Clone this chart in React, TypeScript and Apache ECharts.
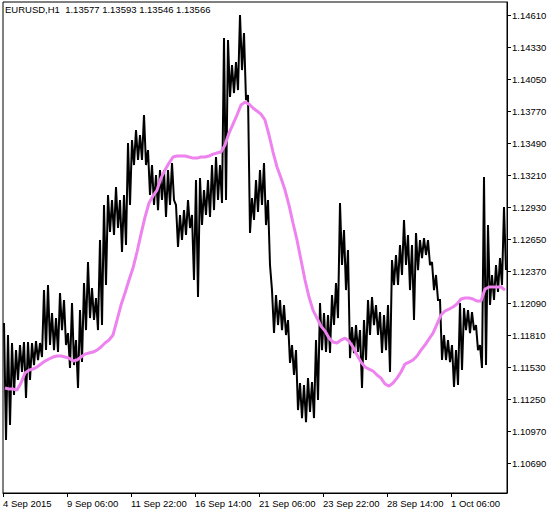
import React, { useEffect, useRef } from "react";
import * as echarts from "echarts";

const titleText = "EURUSD,H1  1.13577 1.13593 1.13546 1.13566";
const xTickLabels = ["4 Sep 2015", "9 Sep 06:00", "11 Sep 22:00", "16 Sep 14:00", "21 Sep 06:00", "23 Sep 22:00", "28 Sep 14:00", "1 Oct 06:00"];
const barsPerLabel = 16;
const yTickValues = [1.1069, 1.1097, 1.1125, 1.1153, 1.1181, 1.1209, 1.1237, 1.1265, 1.1293, 1.1321, 1.1349, 1.1377, 1.1405, 1.1433, 1.1461];

const highs = [
  1.11915, 1.1181, 1.1174, 1.11678, 1.11722, 1.11748, 1.11748, 1.1174, 1.11757, 1.1174,
  1.12203, 1.12247, 1.12002, 1.11958, 1.12177, 1.12116, 1.11827, 1.1209, 1.11766, 1.12028,
  1.12265, 1.12448, 1.12221, 1.12133, 1.12641, 1.12947, 1.13035, 1.12991, 1.13105, 1.12991,
  1.13035, 1.1349, 1.13516, 1.13603, 1.1356, 1.13735, 1.13428, 1.13297, 1.1321, 1.13253,
  1.13253, 1.13253, 1.13315, 1.12947, 1.1286, 1.12903, 1.12991, 1.1286, 1.13166, 1.13183,
  1.13078, 1.13166, 1.13297, 1.13367, 1.13297, 1.14408, 1.14391, 1.14172, 1.14198, 1.1461,
  1.14452, 1.1391, 1.13008, 1.13166, 1.13253, 1.13315, 1.12991, 1.12203, 1.1216, 1.12116,
  1.12072, 1.11941, 1.11722, 1.11678, 1.1139, 1.11372, 1.11433, 1.11398, 1.11766, 1.1209,
  1.12002, 1.11985, 1.1216, 1.12265, 1.12965, 1.12728, 1.12553, 1.1188, 1.11897, 1.11853,
  1.11941, 1.12116, 1.12142, 1.12072, 1.12011, 1.11985, 1.12072, 1.12466, 1.1251, 1.12597,
  1.12816, 1.12685, 1.12597, 1.12702, 1.12641, 1.12658, 1.12641, 1.12448, 1.12335, 1.12116,
  1.1181, 1.11766, 1.11722, 1.11678, 1.1209, 1.12046, 1.12028, 1.12011, 1.11897, 1.11722,
  1.13192, 1.12772, 1.12335, 1.12422, 1.12483, 1.1293,
];

const lows = [
  1.10891, 1.11022, 1.11285, 1.11416, 1.11486, 1.11258, 1.11416, 1.11547, 1.11591, 1.11617,
  1.11678, 1.11722, 1.11678, 1.11661, 1.11853, 1.11722, 1.11521, 1.11547, 1.11346, 1.11573,
  1.11853, 1.11958, 1.11941, 1.11853, 1.11897, 1.12247, 1.12711, 1.12685, 1.12746, 1.12536,
  1.12597, 1.12947, 1.13297, 1.13341, 1.13341, 1.13297, 1.13035, 1.12947, 1.12903, 1.12991,
  1.12842, 1.12947, 1.12991, 1.1258, 1.12641, 1.12685, 1.12746, 1.12291, 1.12142, 1.12772,
  1.1286, 1.12842, 1.12903, 1.12991, 1.12965, 1.12991, 1.13892, 1.13927, 1.13953, 1.14128,
  1.13866, 1.12702, 1.12816, 1.12886, 1.12947, 1.12772, 1.12422, 1.11827, 1.11897, 1.11853,
  1.1181, 1.11565, 1.1146, 1.11153, 1.11083, 1.11048, 1.11136, 1.11083, 1.11241, 1.11678,
  1.11661, 1.11652, 1.11897, 1.11958, 1.12422, 1.12203, 1.11608, 1.11652, 1.11661, 1.11346,
  1.11591, 1.1181, 1.11897, 1.1181, 1.11652, 1.11678, 1.11486, 1.12247, 1.12247, 1.12335,
  1.12422, 1.12203, 1.11941, 1.12378, 1.12483, 1.1251, 1.12422, 1.12203, 1.12116, 1.11591,
  1.11591, 1.11573, 1.11355, 1.11372, 1.11503, 1.11853, 1.11827, 1.11853, 1.11678, 1.11521,
  1.11547, 1.12072, 1.12116, 1.12186, 1.12247, 1.12378,
];

const ma = [
  1.11346, 1.11337, 1.11337, 1.11328, 1.1139, 1.11477, 1.11503, 1.11512, 1.1153, 1.11556,
  1.11582, 1.116, 1.11617, 1.11626, 1.11626, 1.11617, 1.11608, 1.11582, 1.11591, 1.11617,
  1.11643, 1.11652, 1.11661, 1.11678, 1.11705, 1.1174, 1.11766, 1.1181, 1.11941, 1.12072,
  1.12177, 1.12291, 1.12396, 1.12536, 1.12693, 1.12842, 1.12965, 1.13026, 1.13078, 1.13183,
  1.13253, 1.13315, 1.13367, 1.13376, 1.13376, 1.13376, 1.13367, 1.13358, 1.13358, 1.13367,
  1.13367, 1.13376, 1.13393, 1.13402, 1.13411, 1.13472, 1.13577, 1.13656, 1.13735, 1.13822,
  1.13848, 1.13831, 1.13796, 1.1377, 1.13743, 1.13691, 1.1356, 1.13411, 1.1328, 1.13183,
  1.13078, 1.12947, 1.1279, 1.12641, 1.12466, 1.12291, 1.12142, 1.12028, 1.11958, 1.11888,
  1.11845, 1.11783, 1.11748, 1.1174, 1.11766, 1.11783, 1.11757, 1.11705, 1.11635, 1.11573,
  1.1153, 1.11512, 1.11495, 1.1146, 1.11433, 1.11381, 1.11363, 1.1139, 1.11433, 1.11486,
  1.11556, 1.11573, 1.11591, 1.11626, 1.11678, 1.11722, 1.11775, 1.11827, 1.11906, 1.11985,
  1.1202, 1.12037, 1.12055, 1.12081, 1.12125, 1.12133, 1.12133, 1.12125, 1.12107, 1.12107,
  1.12212, 1.1223, 1.1223, 1.1223, 1.1223, 1.12203,
];

const FONT = "'Liberation Sans', Arial, sans-serif";
const FS = 9.5;

export default function App() {
  const ref = useRef<HTMLDivElement>(null);
  useEffect(() => {
    if (!ref.current) return;
    const chart = echarts.init(ref.current, null, { renderer: "svg" });
    const n = highs.length;
    // each bar: a stroke from its high down to its low, joined into one jagged price trace
    const priceTrace: number[][] = [];
    highs.forEach((h, i) => {
      priceTrace.push([i - 0.25, h]);
      priceTrace.push([i + 0.25, lows[i]]);
    });
    const maData = ma.map((v, i) => [i, v]);
    const xTicks = xTickLabels.map((_, k) => k * barsPerLabel - 0.5);
    chart.setOption({
      animation: false,
      backgroundColor: "#ffffff",
      title: {
        text: titleText,
        left: 5,
        top: 4,
        padding: 0,
        textStyle: { fontFamily: FONT, fontSize: FS, fontWeight: "normal", color: "#000" },
      },
      grid: { left: 3, top: 2, width: 504, height: 491, show: true, borderColor: "#000", borderWidth: 1 },
      xAxis: {
        type: "value",
        min: -0.5,
        max: n - 0.5,
        axisLine: { show: true, onZero: false, lineStyle: { color: "#000", width: 1 } },
        axisTick: { show: true, customValues: xTicks, length: 4, lineStyle: { color: "#000" } },
        axisLabel: {
          customValues: xTicks,
          formatter: (v: number) => xTickLabels[Math.round((v + 0.5) / barsPerLabel)] ?? "",
          align: "left",
          color: "#000",
          fontFamily: FONT,
          fontSize: FS,
          margin: 5,
          hideOverlap: false,
        },
        splitLine: { show: false },
      },
      yAxis: {
        type: "value",
        position: "right",
        min: 1.104275,
        max: 1.1472375,
        axisLine: { show: true, onZero: false, lineStyle: { color: "#000", width: 1 } },
        axisTick: { show: true, customValues: yTickValues, length: 4, lineStyle: { color: "#000" } },
        axisLabel: {
          customValues: yTickValues,
          formatter: (v: number) => v.toFixed(5),
          color: "#000",
          fontFamily: FONT,
          fontSize: FS,
          margin: 5,
        },
        splitLine: { show: false },
      },
      series: [
        {
          type: "line",
          data: priceTrace,
          symbol: "none",
          showSymbol: false,
          lineStyle: { color: "#000", width: 2, join: "miter", miterLimit: 2 },
          z: 2,
        },
        {
          type: "line",
          data: maData,
          symbol: "none",
          showSymbol: false,
          lineStyle: { color: "#EE82EE", width: 3 },
          z: 3,
        },
      ],
    });
    return () => chart.dispose();
  }, []);
  return (
    <div
      ref={ref}
      style={{ position: "fixed", left: 0, top: 0, width: 558, height: 513, background: "#fff" }}
    />
  );
}
